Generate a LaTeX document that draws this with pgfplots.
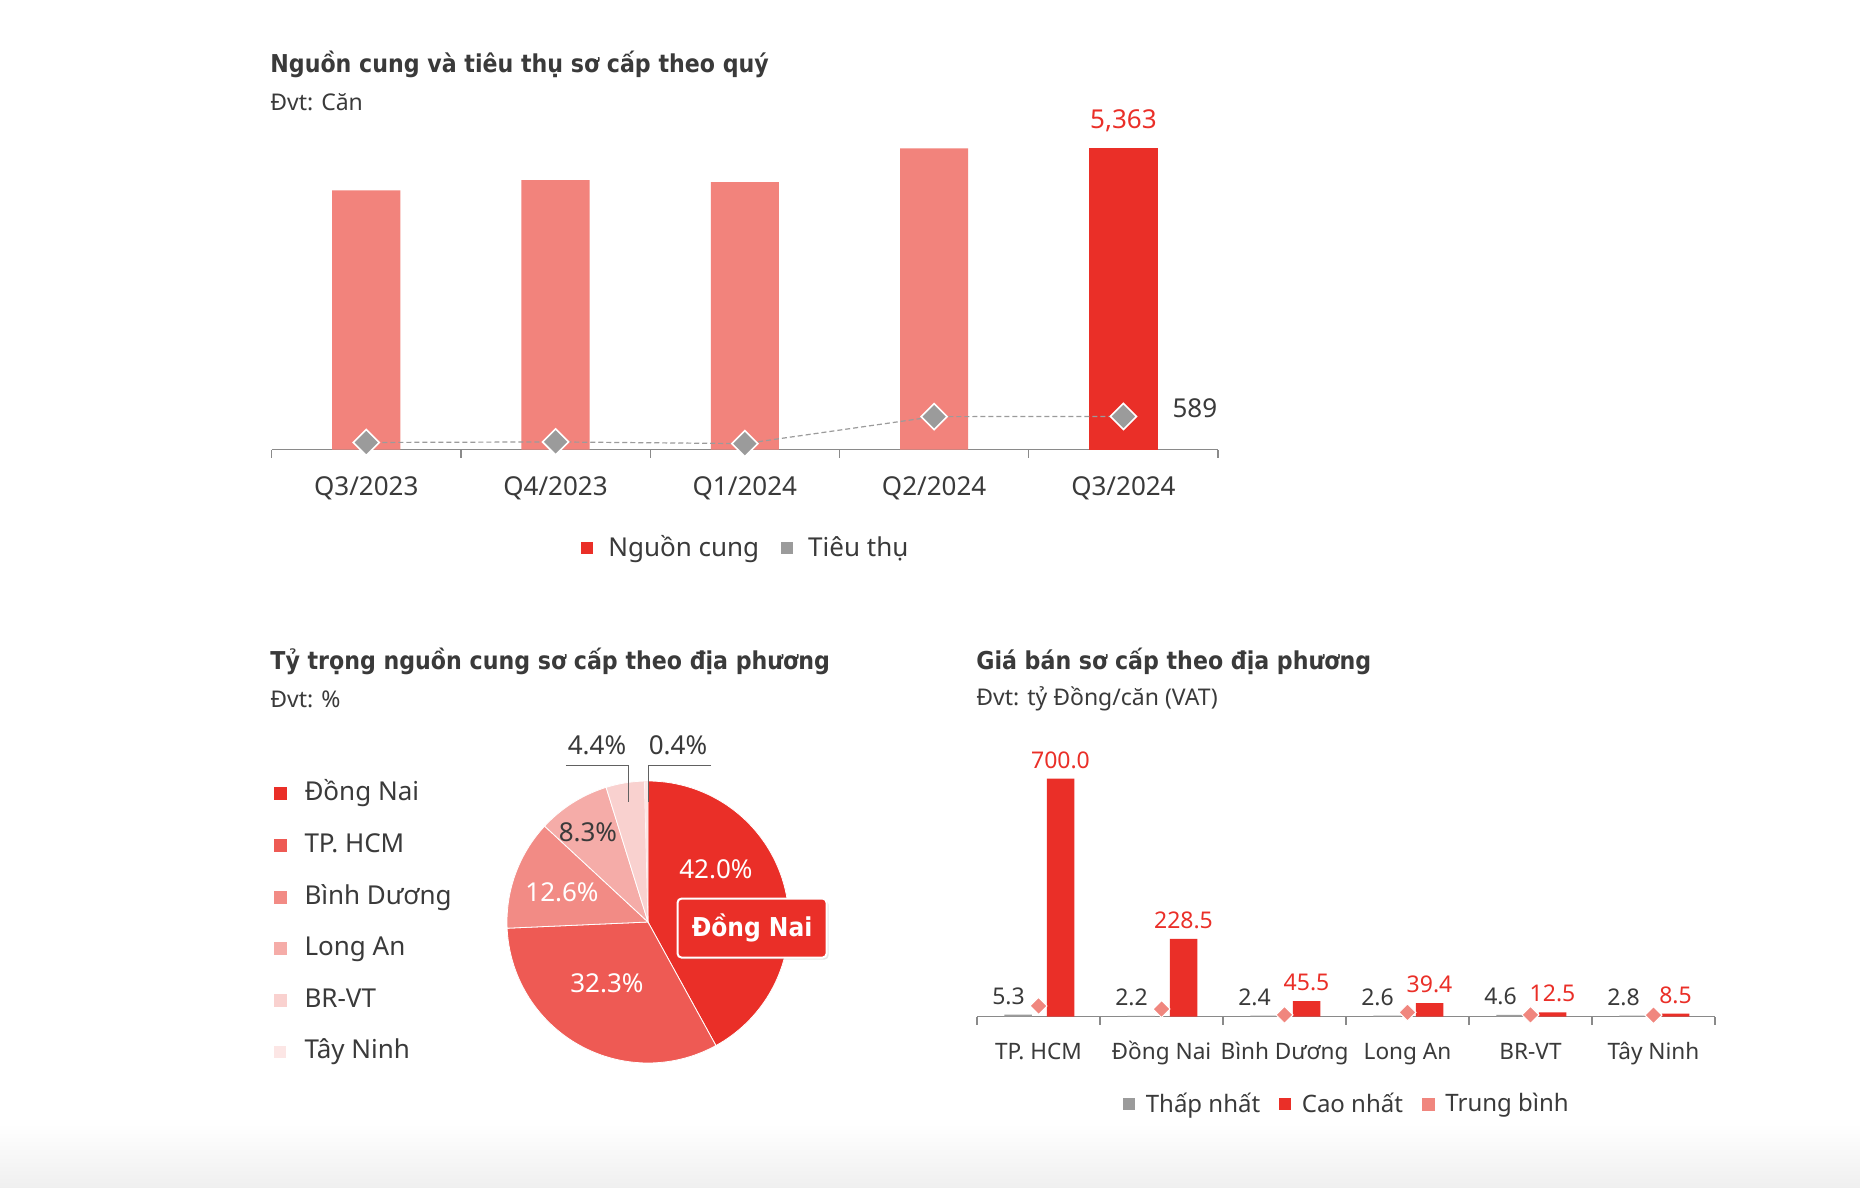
\documentclass[border=0pt]{standalone}
\usepackage{fontspec}
\setmainfont{Noto Sans}
\newfontfamily\tfont{DejaVu Sans Condensed}
\usepackage{pgfplots}
\pgfplotsset{compat=1.18}
\usetikzlibrary{shadows}

\definecolor{cRed}{HTML}{EA2F28}
\definecolor{cSalmon}{HTML}{F2837C}
\definecolor{cGray}{HTML}{9B9B9B}
\definecolor{cText}{HTML}{3A3A3A}
\definecolor{cAxis}{HTML}{8A8A8A}
\definecolor{cHCM}{HTML}{EE5A54}
\definecolor{cBD}{HTML}{F28B85}
\definecolor{cLA}{HTML}{F5ACA8}
\definecolor{cBR}{HTML}{F9D1CF}
\definecolor{cTN}{HTML}{FCE6E5}
\definecolor{cAvg}{HTML}{F0867E}
\definecolor{cBg}{HTML}{EFEFEF}

\newcommand{\fs}[1]{\fontsize{#1}{#1}\selectfont}

\pgfplotsset{
  /pgf/number format/assume math mode=true,
  catbar/.style={
    scale only axis, clip=false,
    axis x line=bottom, axis y line=none,
    axis line style={cAxis, line width=0.6pt, -},
    major tick length=0pt,
    extra x tick labels={},
    extra x tick style={major tick length=4pt, tick align=outside,
      tick style={cAxis, line width=0.6pt}},
    legend style={draw=none, fill=none, text=cText, anchor=center,
      nodes={inner sep=0pt}},
    legend cell align=left,
  },
}

\begin{document}
\begin{tikzpicture}
\fill[white] (0,0) rectangle (930pt,-594pt);
\shade[top color=white, bottom color=cBg] (0,-562pt) rectangle (930pt,-594pt);

% titles
\node[anchor=west, inner sep=0, text=cText, font=\tfont\fs{12.3}\bfseries] at (135pt,-32pt) {Nguồn cung và tiêu thụ sơ cấp theo quý};
\node[anchor=west, inner sep=0, text=cText, font=\fs{11.5}] at (135pt,-51pt) {Đvt: Căn};
\node[anchor=west, inner sep=0, text=cText, font=\tfont\fs{12.3}\bfseries] at (135pt,-330.5pt) {Tỷ trọng nguồn cung sơ cấp theo địa phương};
\node[anchor=west, inner sep=0, text=cText, font=\fs{11.5}] at (135pt,-349.5pt) {Đvt: \%};
\node[anchor=west, inner sep=0, text=cText, font=\tfont\fs{12.3}\bfseries] at (488pt,-330.5pt) {Giá bán sơ cấp theo địa phương};
\node[anchor=west, inner sep=0, text=cText, font=\fs{11.5}] at (488pt,-349.5pt) {Đvt: tỷ Đồng/căn (VAT)};

% ---- supply / absorption by quarter
\begin{axis}[catbar,
  at={(135.8pt,-224.75pt)}, anchor=south west,
  width=473.25pt, height=168.5pt,
  xmin=-0.5, xmax=4.5, ymin=0, ymax=6000,
  xtick={0,...,4},
  xticklabels={Q3/2023,Q4/2023,Q1/2024,Q2/2024,Q3/2024},
  extra x ticks={-0.5,0.5,...,4.5},
  xticklabel style={font=\fs{13}, text=cText, anchor=base, yshift=-22.9pt},
  legend style={at={(0.5,-0.292)}, font=\fs{13}, legend columns=2,
    /tikz/every odd column/.append style={column sep=7.5pt},
    /tikz/every even column/.append style={column sep=11pt}},
]
\addplot[ybar, bar width=0.36, bar shift=0pt, fill=cSalmon, draw=none, forget plot]
  coordinates {(0,4615) (1,4795) (2,4760) (3,5360)};
\addplot[ybar, bar width=0.36, bar shift=0pt, fill=cRed, draw=none,
  legend image code/.code={\fill[cRed] (0pt,-3pt) rectangle (6pt,3pt);}]
  coordinates {(4,5363)};
\addlegendentry{Nguồn cung}
\addplot[cGray, line width=0.6pt, dash pattern=on 2.5pt off 1.5pt,
  mark=square*, mark size=4.6pt,
  mark options={rotate=45, solid, fill=cGray, draw=white, line width=0.8pt},
  legend image code/.code={\path[fill=cGray, draw=none, solid] (0pt,-3pt) rectangle (6pt,3pt);}]
  coordinates {(0,125) (1,135) (2,105) (3,585) (4,589)};
\addlegendentry{Tiêu thụ}
\node[text=cRed, font=\fs{13}, yshift=14pt] at (axis cs:4,5363) {5,363};
\node[text=cText, font=\fs{13}, anchor=west, xshift=21pt, yshift=4pt] at (axis cs:4,589) {589};
\end{axis}

% ---- share by province (pie)
\begin{axis}[
  at={(324pt,-461pt)}, anchor=center, scale only axis,
  width=141pt, height=141pt,
  xmin=-1, xmax=1, ymin=-1, ymax=1,
  hide axis, clip=false,
  legend style={at={(-0.85,1.016)}, anchor=north west, draw=none, fill=none,
    font=\fs{13}, text=cText, legend columns=1, row sep=12.8pt,
    nodes={inner sep=0pt, text height=10pt, text depth=3pt},
    /tikz/every odd column/.append style={column sep=9pt}},
  legend cell align=left,
]
\addplot[fill=cRed, draw=white, line width=0.4pt, samples=80,
  domain={90-3.6*42.0}:{90},
  legend image code/.code={\fill[cRed] (0pt,-3pt) rectangle (6pt,3pt);}]
  ({cos(x)},{sin(x)}) -- (axis cs:0,0) -- cycle;
\addlegendentry{Đồng Nai}
\addplot[fill=cHCM, draw=white, line width=0.4pt, samples=80,
  domain={90-3.6*(42.0+32.3)}:{90-3.6*42.0},
  legend image code/.code={\fill[cHCM] (0pt,-3pt) rectangle (6pt,3pt);}]
  ({cos(x)},{sin(x)}) -- (axis cs:0,0) -- cycle;
\addlegendentry{TP. HCM}
\addplot[fill=cBD, draw=white, line width=0.4pt, samples=60,
  domain={90-3.6*(42.0+32.3+12.6)}:{90-3.6*(42.0+32.3)},
  legend image code/.code={\fill[cBD] (0pt,-3pt) rectangle (6pt,3pt);}]
  ({cos(x)},{sin(x)}) -- (axis cs:0,0) -- cycle;
\addlegendentry{Bình Dương}
\addplot[fill=cLA, draw=white, line width=0.4pt, samples=40,
  domain={90-3.6*(42.0+32.3+12.6+8.3)}:{90-3.6*(42.0+32.3+12.6)},
  legend image code/.code={\fill[cLA] (0pt,-3pt) rectangle (6pt,3pt);}]
  ({cos(x)},{sin(x)}) -- (axis cs:0,0) -- cycle;
\addlegendentry{Long An}
\addplot[fill=cBR, draw=white, line width=0.4pt, samples=30,
  domain={90-3.6*(42.0+32.3+12.6+8.3+4.4)}:{90-3.6*(42.0+32.3+12.6+8.3)},
  legend image code/.code={\fill[cBR] (0pt,-3pt) rectangle (6pt,3pt);}]
  ({cos(x)},{sin(x)}) -- (axis cs:0,0) -- cycle;
\addlegendentry{BR-VT}
\addplot[fill=cTN, draw=none, samples=10,
  domain={90-3.6*(42.0+32.3+12.6+8.3+4.4+0.4)}:{90-3.6*(42.0+32.3+12.6+8.3+4.4)},
  legend image code/.code={\fill[cTN] (0pt,-3pt) rectangle (6pt,3pt);}]
  ({cos(x)},{sin(x)}) -- (axis cs:0,0) -- cycle;
\addlegendentry{Tây Ninh}
% slice labels
\node[text=white, font=\fs{13}] at (axis cs:0.482,0.376) {42.0\%};
\node[text=white, font=\fs{13}] at (axis cs:-0.291,-0.433) {32.3\%};
\node[text=white, font=\fs{13}] at (axis cs:-0.610,0.213) {12.6\%};
\node[text=cText, font=\fs{13}] at (axis cs:-0.426,0.638) {8.3\%};
\node[text=cText, font=\fs{13}] at (axis cs:-0.362,1.255) {4.4\%};
\node[text=cText, font=\fs{13}] at (axis cs:0.213,1.255) {0.4\%};
\draw[cText!80, line width=0.5pt] (axis cs:-0.582,1.113) -- (axis cs:-0.135,1.113) -- (axis cs:-0.135,0.851);
\draw[cText!80, line width=0.5pt] (axis cs:0.447,1.113) -- (axis cs:0,1.113) -- (axis cs:0,0.851);
\node[fill=cRed, draw=white, line width=1pt, rounded corners=2pt,
  minimum width=74.5pt, minimum height=29.5pt, text=white, font=\tfont\fs{13}\bfseries,
  drop shadow={opacity=0.2, shadow xshift=1pt, shadow yshift=-1pt}]
  at (axis cs:0.738,-0.043) {Đồng Nai};
\end{axis}

% ---- price by province
\begin{axis}[catbar,
  at={(488.5pt,-508.25pt)}, anchor=south west,
  width=369pt, height=136pt,
  xmin=-0.5, xmax=5.5, ymin=0, ymax=800,
  xtick={0,...,5},
  xticklabels={TP. HCM,Đồng Nai,Bình Dương,Long An,BR-VT,Tây Ninh},
  extra x ticks={-0.5,0.5,...,5.5},
  xticklabel style={font=\fs{11.3}, text=cText, anchor=base, yshift=-21.3pt},
  legend style={at={(0.5,-0.322)}, font=\fs{12}, legend columns=3,
    /tikz/every odd column/.append style={column sep=5.3pt},
    /tikz/every even column/.append style={column sep=9.5pt}},
  nodes near coords={\pgfmathprintnumber[fixed, fixed zerofill, precision=1]{\pgfplotspointmeta}},
]
\addplot[ybar, bar width=0.224, bar shift=-0.165, fill=cGray, draw=none,
  nodes near coords style={text=cText, font=\fs{11.5}, anchor=south, xshift=-15pt, yshift=1.5pt},
  legend image code/.code={\fill[cGray] (0pt,-3pt) rectangle (6pt,3pt);}]
  coordinates {(0,5.3) (1,2.2) (2,2.4) (3,2.6) (4,4.6) (5,2.8)};
\addlegendentry{Thấp nhất}
\addplot[ybar, bar width=0.224, bar shift=0.18, fill=cRed, draw=none,
  nodes near coords style={text=cRed, font=\fs{11.5}, anchor=south, xshift=11pt, yshift=1.5pt},
  legend image code/.code={\fill[cRed] (0pt,-3pt) rectangle (6pt,3pt);}]
  coordinates {(0,700.0) (1,228.5) (2,45.5) (3,39.4) (4,12.5) (5,8.5)};
\addlegendentry{Cao nhất}
\addplot[only marks, mark=square*, mark size=3pt, nodes near coords={},
  mark options={rotate=45, fill=cAvg, draw=white, line width=0.5pt},
  legend image code/.code={\fill[cAvg] (0pt,-3pt) rectangle (6pt,3pt);}]
  coordinates {(0,31) (1,22) (2,5) (3,12) (4,5) (5,4)};
\addlegendentry{Trung bình}
\end{axis}
\end{tikzpicture}
\end{document}
